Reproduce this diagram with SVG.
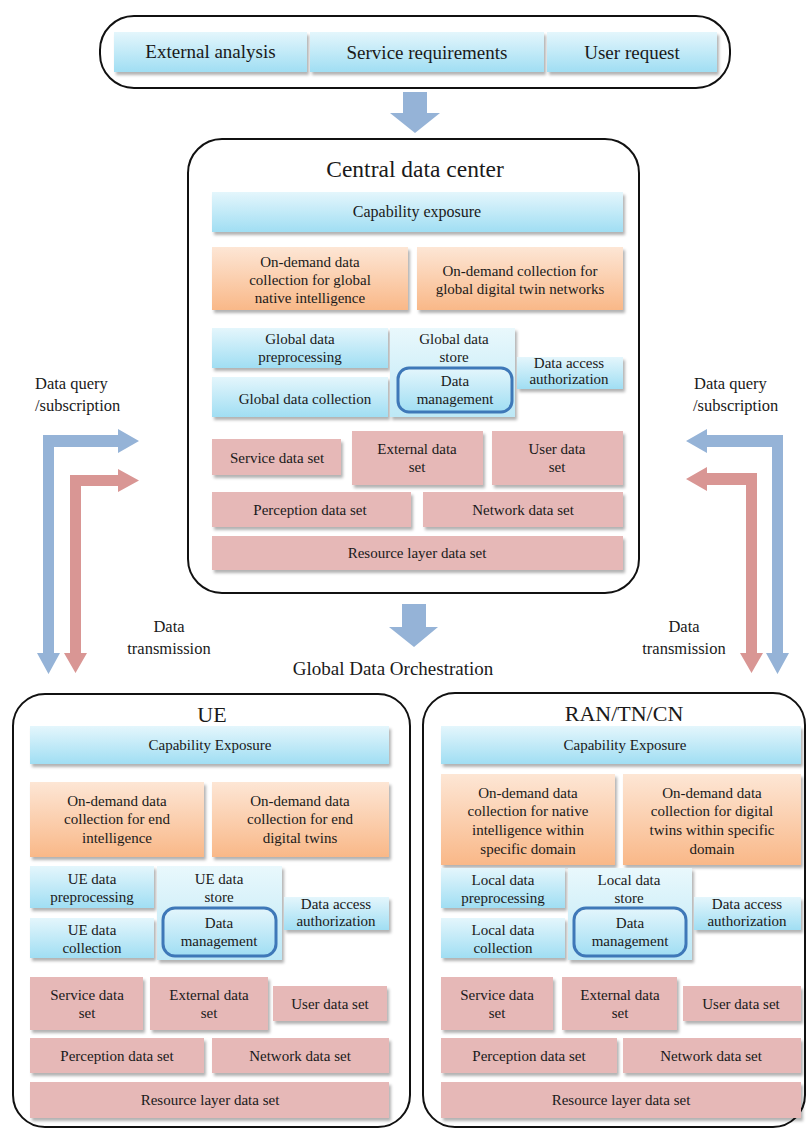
<svg xmlns="http://www.w3.org/2000/svg" width="807" height="1129" viewBox="0 0 807 1129">
  <defs>
    <linearGradient id="gBlue" x1="0" y1="0" x2="0" y2="1">
      <stop offset="0" stop-color="#e4f6fc"/>
      <stop offset="1" stop-color="#a0def3"/>
    </linearGradient>
    <linearGradient id="gBlueLight" x1="0" y1="0" x2="0" y2="1">
      <stop offset="0" stop-color="#e9f8fc"/>
      <stop offset="1" stop-color="#bde8f6"/>
    </linearGradient>
    <linearGradient id="gOrange" x1="0" y1="0" x2="0" y2="1">
      <stop offset="0" stop-color="#fde6d5"/>
      <stop offset="1" stop-color="#f9b888"/>
    </linearGradient>
    <filter id="shadow" x="-10%" y="-10%" width="125%" height="140%">
      <feDropShadow dx="2" dy="3" stdDeviation="1.5" flood-color="#000" flood-opacity="0.3"/>
    </filter>
    <style>
      .frame { fill: #ffffff; stroke: #111111; stroke-width: 2; }
      .blue { fill: url(#gBlue); filter: url(#shadow); }
      .bluel { fill: url(#gBlueLight); filter: url(#shadow); }
      .orange { fill: url(#gOrange); filter: url(#shadow); }
      .pink { fill: #e6b8b7; filter: url(#shadow); }
      .dm { fill: url(#gBlue); stroke: #3e78b8; stroke-width: 3; }
      text { font-family: "Liberation Serif", "Times New Roman", serif; fill: #1a1a1a; text-anchor: middle; dominant-baseline: central; }
      .t15 { font-size: 15px; }
      .t16 { font-size: 16px; }
      .t17 { font-size: 16.5px; }
      .t19 { font-size: 19px; }
      .title { font-size: 22px; }
      .ctitle { font-size: 23.5px; }
      .lab { text-anchor: start; }
      .ablue { fill: #95b3d7; }
      .ared { fill: #d99694; }
    </style>
  </defs>

  <!-- Input requirements -->
  <g id="inputs">
    <rect class="frame" x="100" y="16" width="630" height="72" rx="34"/>
    <rect class="blue" x="114" y="32" width="193" height="40"/>
    <rect class="blue" x="310" y="32" width="234" height="40"/>
    <rect class="blue" x="547" y="32" width="170" height="40"/>
    <text class="t19" x="210.5" y="51">External analysis</text>
    <text class="t19" x="427" y="52">Service requirements</text>
    <text class="t19" x="632" y="52">User request</text>
  </g>

  <!-- Central data center -->
  <g id="central">
    <rect class="frame" x="188" y="139" width="451" height="454" rx="34"/>
    <text class="ctitle" x="415" y="169">Central data center</text>
    <rect class="blue" x="212" y="192" width="411" height="40"/>
    <text class="t16" x="417" y="211">Capability exposure</text>
    <rect class="orange" x="212" y="247" width="196" height="63"/>
    <text class="t15"><tspan x="310" y="262">On-demand data</tspan><tspan x="310" y="280">collection for global</tspan><tspan x="310" y="298">native intelligence</tspan></text>
    <rect class="orange" x="417" y="247" width="206" height="63"/>
    <text class="t15"><tspan x="520" y="271">On-demand collection for</tspan><tspan x="520" y="289">global digital twin networks</tspan></text>
    <rect class="blue" x="212" y="328" width="176" height="40"/>
    <text class="t15"><tspan x="300" y="339">Global data</tspan><tspan x="300" y="357">preprocessing</tspan></text>
    <rect class="blue" x="212" y="377" width="176" height="40"/>
    <text class="t15" x="305" y="399">Global data collection</text>
    <rect class="bluel" x="390" y="328" width="125" height="89"/>
    <text class="t15"><tspan x="454" y="339">Global data</tspan><tspan x="454" y="357">store</tspan></text>
    <rect class="dm" x="398" y="368" width="114" height="44" rx="11"/>
    <text class="t15"><tspan x="455" y="381">Data</tspan><tspan x="455" y="399">management</tspan></text>
    <rect class="blue" x="517" y="357" width="106" height="32"/>
    <text class="t15"><tspan x="569" y="363">Data access</tspan><tspan x="569" y="379">authorization</tspan></text>
    <rect class="pink" x="212" y="439" width="129" height="36"/>
    <text class="t15" x="277" y="458">Service data set</text>
    <rect class="pink" x="352" y="431" width="131" height="54"/>
    <text class="t15"><tspan x="417" y="449">External data</tspan><tspan x="417" y="467">set</tspan></text>
    <rect class="pink" x="492" y="431" width="131" height="54"/>
    <text class="t15"><tspan x="557" y="449">User data</tspan><tspan x="557" y="467">set</tspan></text>
    <rect class="pink" x="212" y="492" width="199" height="35"/>
    <text class="t15" x="310" y="510">Perception data set</text>
    <rect class="pink" x="423" y="492" width="200" height="35"/>
    <text class="t15" x="523" y="510">Network data set</text>
    <rect class="pink" x="212" y="536" width="411" height="34"/>
    <text class="t15" x="417" y="553">Resource layer data set</text>
  </g>

  <!-- UE domain -->
  <g id="ue">
    <rect class="frame" x="13" y="694" width="397" height="433" rx="32"/>
    <text class="title" x="212" y="714">UE</text>
    <rect class="blue" x="30" y="726" width="359" height="38"/>
    <text class="t15" x="210" y="745">Capability Exposure</text>
    <rect class="orange" x="30" y="782" width="174" height="75"/>
    <text class="t15"><tspan x="117" y="801">On-demand data</tspan><tspan x="117" y="819">collection for end</tspan><tspan x="117" y="838">intelligence</tspan></text>
    <rect class="orange" x="212" y="782" width="177" height="75"/>
    <text class="t15"><tspan x="300" y="801">On-demand data</tspan><tspan x="300" y="819">collection for end</tspan><tspan x="300" y="838">digital twins</tspan></text>
    <rect class="blue" x="30" y="866" width="124" height="42"/>
    <text class="t15"><tspan x="92" y="879">UE data</tspan><tspan x="92" y="897">preprocessing</tspan></text>
    <rect class="blue" x="30" y="918" width="124" height="40"/>
    <text class="t15"><tspan x="92" y="930">UE data</tspan><tspan x="92" y="948">collection</tspan></text>
    <rect class="bluel" x="157" y="866" width="125" height="94"/>
    <text class="t15"><tspan x="219" y="879">UE data</tspan><tspan x="219" y="897">store</tspan></text>
    <rect class="dm" x="163" y="908" width="113" height="48" rx="12"/>
    <text class="t15"><tspan x="219" y="923">Data</tspan><tspan x="219" y="941">management</tspan></text>
    <rect class="blue" x="284" y="897" width="105" height="33"/>
    <text class="t15"><tspan x="336" y="904">Data access</tspan><tspan x="336" y="921">authorization</tspan></text>
    <rect class="pink" x="30" y="977" width="113" height="53"/>
    <text class="t15"><tspan x="87" y="995">Service data</tspan><tspan x="87" y="1013">set</tspan></text>
    <rect class="pink" x="150" y="977" width="118" height="53"/>
    <text class="t15"><tspan x="209" y="995">External data</tspan><tspan x="209" y="1013">set</tspan></text>
    <rect class="pink" x="273" y="986" width="114" height="35"/>
    <text class="t15" x="330" y="1004">User data set</text>
    <rect class="pink" x="30" y="1038" width="174" height="35"/>
    <text class="t15" x="117" y="1056">Perception data set</text>
    <rect class="pink" x="212" y="1038" width="177" height="35"/>
    <text class="t15" x="300" y="1056">Network data set</text>
    <rect class="pink" x="30" y="1082" width="359" height="36"/>
    <text class="t15" x="210" y="1100">Resource layer data set</text>
  </g>

  <!-- RAN / TN / CN domain -->
  <g id="ran">
    <rect class="frame" x="423" y="693" width="382" height="434" rx="32"/>
    <text class="title" x="624" y="713">RAN/TN/CN</text>
    <rect class="blue" x="441" y="726" width="360" height="38"/>
    <text class="t15" x="625" y="745">Capability Exposure</text>
    <rect class="orange" x="441" y="774" width="174" height="91"/>
    <text class="t15"><tspan x="528" y="793">On-demand data</tspan><tspan x="528" y="811">collection for native</tspan><tspan x="528" y="830">intelligence  within</tspan><tspan x="528" y="849">specific domain</tspan></text>
    <rect class="orange" x="623" y="774" width="178" height="91"/>
    <text class="t15"><tspan x="712" y="793">On-demand data</tspan><tspan x="712" y="811">collection for digital</tspan><tspan x="712" y="830">twins within specific</tspan><tspan x="712" y="849">domain</tspan></text>
    <rect class="blue" x="441" y="868" width="124" height="40"/>
    <text class="t15"><tspan x="503" y="880">Local data</tspan><tspan x="503" y="898">preprocessing</tspan></text>
    <rect class="blue" x="441" y="918" width="124" height="40"/>
    <text class="t15"><tspan x="503" y="930">Local data</tspan><tspan x="503" y="948">collection</tspan></text>
    <rect class="bluel" x="568" y="868" width="124" height="92"/>
    <text class="t15"><tspan x="629" y="880">Local data</tspan><tspan x="629" y="898">store</tspan></text>
    <rect class="dm" x="574" y="908" width="112" height="48" rx="12"/>
    <text class="t15"><tspan x="630" y="923">Data</tspan><tspan x="630" y="941">management</tspan></text>
    <rect class="blue" x="694" y="897" width="107" height="33"/>
    <text class="t15"><tspan x="747" y="904">Data access</tspan><tspan x="747" y="921">authorization</tspan></text>
    <rect class="pink" x="441" y="977" width="112" height="53"/>
    <text class="t15"><tspan x="497" y="995">Service data</tspan><tspan x="497" y="1013">set</tspan></text>
    <rect class="pink" x="562" y="977" width="115" height="53"/>
    <text class="t15"><tspan x="620" y="995">External data</tspan><tspan x="620" y="1013">set</tspan></text>
    <rect class="pink" x="683" y="986" width="118" height="35"/>
    <text class="t15" x="741" y="1004">User data set</text>
    <rect class="pink" x="441" y="1038" width="176" height="35"/>
    <text class="t15" x="529" y="1056">Perception data set</text>
    <rect class="pink" x="623" y="1038" width="178" height="35"/>
    <text class="t15" x="711" y="1056">Network data set</text>
    <rect class="pink" x="441" y="1082" width="360" height="36"/>
    <text class="t15" x="621" y="1100">Resource layer data set</text>
  </g>

  <!-- Block arrows and data flows -->
  <g id="connectors">
    <polygon class="ablue" points="403,92 427,92 427,113 440,113 415,133 390,113 403,113"/>
    <polygon class="ablue" points="402,604 426,604 426,627 438,627 414,647 389,627 402,627"/>
    <!-- left side: query (blue) and transmission (red) -->
    <polygon class="ablue" points="43,435 118,435 118,429 139,441 118,453 118,447 54,447 54,653 60,653 48.5,674 37,653 43,653"/>
    <polygon class="ared" points="70,475 118,475 118,469 139,480.5 118,492 118,486 81,486 81,653 87,653 75.5,673 64,653 70,653"/>
    <!-- right side: query (blue) and transmission (red) -->
    <polygon class="ablue" points="783,435 707,435 707,429 686,441 707,453 707,447 772,447 772,653 766,653 777.5,674 789,653 783,653"/>
    <polygon class="ared" points="757,473 707,473 707,467 686,479 707,491 707,485 746,485 746,653 740,653 751.5,673 763,653 757,653"/>
  </g>

  <g id="labels">
    <text class="t17 lab" x="35" y="383">Data query</text>
    <text class="t17 lab" x="35" y="405">/subscription</text>
    <text class="t17 lab" x="694" y="383">Data query</text>
    <text class="t17 lab" x="693" y="405">/subscription</text>
    <text class="t17" x="169" y="626">Data</text>
    <text class="t17" x="169" y="648">transmission</text>
    <text class="t17" x="684" y="626">Data</text>
    <text class="t17" x="684" y="648">transmission</text>
    <text class="t19" x="393" y="668">Global Data Orchestration</text>
  </g>
</svg>
